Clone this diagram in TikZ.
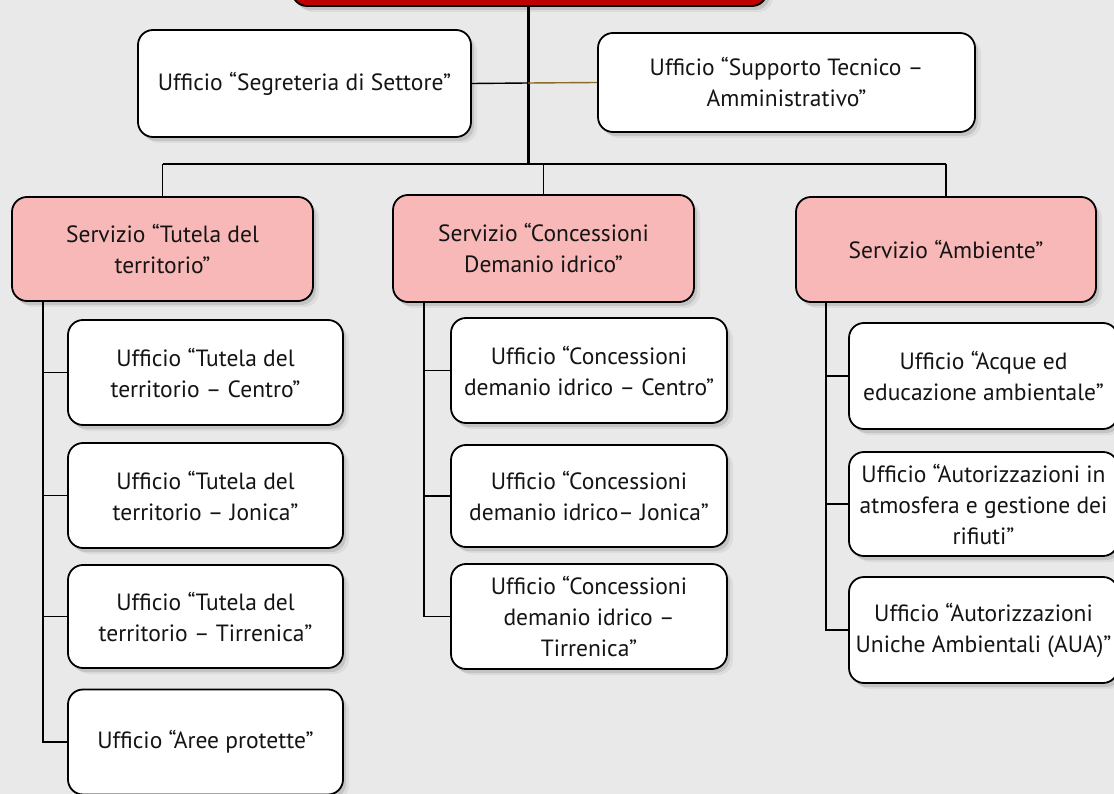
\documentclass[tikz,border=0pt]{standalone}
\usepackage{fontspec}
\setmainfont{PT Sans}
\usetikzlibrary{shadows}
\definecolor{bgc}{HTML}{E9E9E9}
\definecolor{txt}{HTML}{141414}
\definecolor{servc}{HTML}{F8B8B8}
\definecolor{topred}{HTML}{C00000}
\definecolor{brownline}{HTML}{8C6A2C}
\tikzset{
  box/.style={draw=black, line width=1.8pt, rounded corners=15pt, fill=white,
    align=center, text=txt, inner sep=0pt,
    font=\fontsize{23.5}{31}\selectfont,
    drop shadow={shadow xshift=3pt, shadow yshift=-4pt, opacity=.25},
    drop shadow={shadow xshift=6pt, shadow yshift=-6pt, opacity=.12}},
  servbox/.style={box, fill=servc},
  conn/.style={draw=black, line width=1.8pt},
  thin/.style={draw=black, line width=1.4pt},
}
\begin{document}
\begin{tikzpicture}[x=1pt,y=-1pt]
\useasboundingbox (0,0) rectangle (1114,794);
\fill[bgc] (0,0) rectangle (1114,794);

% top box (cut at the top edge)
\node[box, fill=topred, minimum width=475pt, minimum height=80pt] (top) at (529.5,-34) {};

\node[box, minimum width=333pt, minimum height=107pt] (seg) at (304.5,83.5) {Ufficio “Segreteria di Settore”};
\node[box, minimum width=377pt, minimum height=99pt] (sup) at (786.5,82.5) {Ufficio “Supporto Tecnico –\\Amministrativo”};

\node[servbox, minimum width=301pt, minimum height=104pt] (s1) at (162.5,249) {Servizio “Tutela del\\territorio”};
\node[servbox, minimum width=301pt, minimum height=107pt] (s2) at (543.5,248.5) {Servizio “Concessioni\\Demanio idrico”};
\node[servbox, minimum width=300pt, minimum height=105pt] (s3) at (946,249.5) {Servizio “Ambiente”};

\node[box, minimum width=275pt, minimum height=105pt] (t1) at (205.5,372.5) {Ufficio “Tutela del\\territorio – Centro”};
\node[box, minimum width=275pt, minimum height=105pt] (t2) at (205.5,495.5) {Ufficio “Tutela del\\territorio – Jonica”};
\node[box, minimum width=275pt, minimum height=103pt] (t3) at (205.5,616.5) {Ufficio “Tutela del\\territorio – Tirrenica”};
\node[box, minimum width=275pt, minimum height=105pt] (t4) at (205.5,742) {Ufficio “Aree protette”};

\node[box, minimum width=276pt, minimum height=105pt] (c1) at (589,370.5) {Ufficio “Concessioni\\demanio idrico – Centro”};
\node[box, minimum width=276pt, minimum height=102pt] (c2) at (589,496) {Ufficio “Concessioni\\demanio idrico– Jonica”};
\node[box, minimum width=276pt, minimum height=105pt] (c3) at (589,616.5) {Ufficio “Concessioni\\demanio idrico –\\Tirrenica”};

\node[box, minimum width=269pt, minimum height=106pt] (a1) at (983.5,376) {Ufficio “Acque ed\\educazione ambientale”};
\node[box, minimum width=269pt, minimum height=104pt] (a2) at (983.5,504) {Ufficio “Autorizzazioni in\\atmosfera e gestione dei\\rifiuti”};
\node[box, minimum width=269pt, minimum height=106pt] (a3) at (983.5,630) {Ufficio “Autorizzazioni\\Uniche Ambientali (AUA)”};

% trunk and bus
\coordinate (j) at (528,164);
\coordinate (tm) at (528,83);
\draw[draw=black, line width=3pt] (top.south -| j) -- (j);
\draw[thin] (seg.east) -- (tm);
\draw[draw=brownline, line width=1.4pt] (tm) -- (sup.west);
\draw[thin] (s1.north |- j) -- (s3.north |- j);
\draw[thin] (s1.north |- j) -- (s1.north);
\draw[thin] (s2.north |- j) -- (s2.north);
\draw[thin] (s3.north |- j) -- (s3.north);

% service branches
\coordinate (tv) at (43,301);
\coordinate (cv) at (424,302);
\coordinate (av) at (826,302);
\draw[conn] (tv) |- (t4.west);
\draw[conn] (tv |- t1.west) -- (t1.west);
\draw[conn] (tv |- t2.west) -- (t2.west);
\draw[conn] (tv |- t3.west) -- (t3.west);
\draw[conn] (cv) |- (c3.west);
\draw[conn] (cv |- c1.west) -- (c1.west);
\draw[conn] (cv |- c2.west) -- (c2.west);
\draw[conn] (av) |- (a3.west);
\draw[conn] (av |- a1.west) -- (a1.west);
\draw[conn] (av |- a2.west) -- (a2.west);
\end{tikzpicture}
\end{document}
